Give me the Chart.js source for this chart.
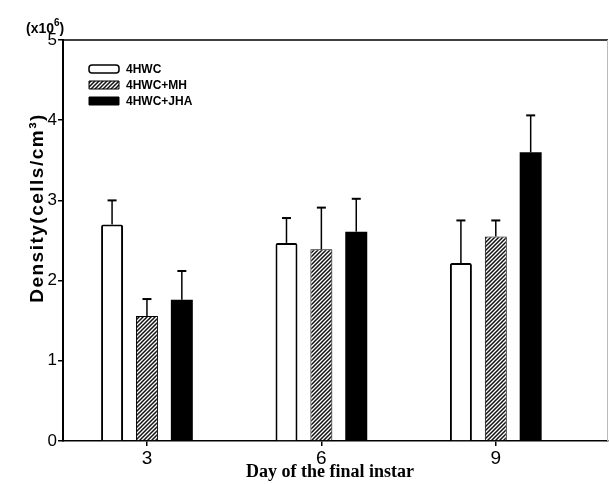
<!DOCTYPE html>
<html>
<head>
<meta charset="utf-8">
<script src="https://cdn.jsdelivr.net/npm/chart.js@4/dist/chart.umd.min.js"></script>
<style>
  html, body { margin: 0; padding: 0; background: #fff; }
  #wrap { width: 609px; height: 484px; }
</style>
</head>
<body>
<div id="wrap"><canvas id="chart" width="609" height="484"></canvas></div>
<script>
// data (density, x10^6 cells/cm3)
const days = [3, 6, 9];
const seriesNames = ["4HWC", "4HWC+MH", "4HWC+JHA"];
const hwc = [2.70, 2.47, 2.22];
const hwcErr = [0.30, 0.31, 0.53];
const mh = [1.56, 2.39, 2.55];
const mhErr = [0.21, 0.52, 0.20];
const jha = [1.76, 2.61, 3.60];
const jhaErr = [0.36, 0.41, 0.46];
const yTicks = [0, 1, 2, 3, 4, 5];

// diagonal hatch for the MH bars
function makeHatch() {
  const c = document.createElement("canvas");
  c.width = 4; c.height = 4;
  const g = c.getContext("2d");
  g.fillStyle = "#fff";
  g.fillRect(0, 0, 4, 4);
  g.strokeStyle = "#111";
  g.lineWidth = 1.5;
  g.beginPath();
  g.moveTo(-1, 5); g.lineTo(5, -1);
  g.moveTo(-1, 1); g.lineTo(1, -1);
  g.moveTo(3, 5); g.lineTo(5, 3);
  g.stroke();
  return g.createPattern(c, "repeat");
}
const hatch = makeHatch();

const errs = [hwcErr, mhErr, jhaErr];

// error bars (upper side only)
const errorBars = {
  id: "errorBars",
  afterDatasetsDraw(chart) {
    const ctx = chart.ctx;
    const y = chart.scales.y;
    ctx.save();
    ctx.strokeStyle = "#000";
    chart.data.datasets.forEach((ds, i) => {
      const meta = chart.getDatasetMeta(i);
      meta.data.forEach((bar, j) => {
        const top = y.getPixelForValue(ds.data[j].y + errs[i][j]);
        ctx.lineWidth = 1.5;
        ctx.beginPath();
        ctx.moveTo(bar.x, bar.y);
        ctx.lineTo(bar.x, top);
        ctx.stroke();
        ctx.lineWidth = 2;
        ctx.beginPath();
        ctx.moveTo(bar.x - 4.5, top);
        ctx.lineTo(bar.x + 4.5, top);
        ctx.stroke();
      });
    });
    ctx.restore();
  }
};

// frame, titles and legend
const decorations = {
  id: "decorations",
  afterDraw(chart) {
    const ctx = chart.ctx;
    const a = chart.chartArea;
    ctx.save();
    ctx.strokeStyle = "#000";
    ctx.lineWidth = 1.5;
    ctx.beginPath();
    ctx.moveTo(a.left, a.top);
    ctx.lineTo(a.right, a.top);
    ctx.stroke();
    ctx.strokeStyle = "#bbb";
    ctx.lineWidth = 1;
    ctx.beginPath();
    ctx.moveTo(a.right - 0.5, a.top);
    ctx.lineTo(a.right - 0.5, a.bottom);
    ctx.stroke();

    ctx.fillStyle = "#000";
    // multiplier (x10^6)
    ctx.textAlign = "left";
    ctx.textBaseline = "alphabetic";
    ctx.font = "bold 14px 'Liberation Sans', Arial, sans-serif";
    ctx.fillText("(x10", 26, 33);
    let w = ctx.measureText("(x10").width;
    ctx.font = "bold 10px 'Liberation Sans', Arial, sans-serif";
    ctx.fillText("6", 26 + w, 26);
    w += ctx.measureText("6").width;
    ctx.font = "bold 14px 'Liberation Sans', Arial, sans-serif";
    ctx.fillText(")", 26 + w, 33);

    // y title
    ctx.save();
    ctx.translate(43, 208);
    ctx.rotate(-Math.PI / 2);
    ctx.font = "bold 19px 'Liberation Sans', Arial, sans-serif";
    ctx.letterSpacing = "1.5px";
    ctx.textAlign = "center";
    ctx.fillText("Density(cells/cm\u00b3)", 0, 0);
    ctx.restore();

    // x title
    ctx.font = "bold 18px 'Liberation Serif', 'Times New Roman', serif";
    ctx.textAlign = "center";
    ctx.fillText("Day of the final instar", 330, 477);

    // legend
    const ly = [69, 85, 101];
    ctx.font = "bold 12px 'Liberation Sans', Arial, sans-serif";
    ctx.textAlign = "left";
    ctx.textBaseline = "middle";
    chart.data.datasets.forEach((ds, i) => {
      const y0 = ly[i] - 4;
      ctx.beginPath();
      ctx.roundRect(89, y0, 30, 8, i === 0 ? 3 : 0);
      ctx.fillStyle = ds.backgroundColor;
      ctx.fill();
      ctx.lineWidth = i === 0 ? 1.5 : 1;
      ctx.strokeStyle = "#000";
      ctx.stroke();
      ctx.fillStyle = "#000";
      ctx.fillText(ds.label, 126, ly[i] + 0.5);
    });
    ctx.restore();
  }
};

const toPoints = vals => days.map((d, i) => ({ x: d, y: vals[i] }));

new Chart(document.getElementById("chart"), {
  type: "bar",
  data: {
    datasets: [
      { label: seriesNames[0], data: toPoints(hwc), backgroundColor: "#fff", borderColor: "#000", borderWidth: 2, borderRadius: 2 },
      { label: seriesNames[1], data: toPoints(mh), backgroundColor: hatch, borderColor: "#000", borderWidth: 1 },
      { label: seriesNames[2], data: toPoints(jha), backgroundColor: "#000", borderColor: "#000", borderWidth: 0 }
    ]
  },
  options: {
    responsive: false,
    animation: false,
    categoryPercentage: 0.6,
    barPercentage: 0.63,
    layout: { padding: { top: 40, right: 1, left: 0, bottom: 0 } },
    plugins: { legend: { display: false }, tooltip: { enabled: false } },
    scales: {
      x: {
        type: "linear",
        offset: false,
        min: 1.556,
        max: 10.93,
        afterBuildTicks: s => { s.ticks = days.map(v => ({ value: v })); },
        afterFit: s => { s.height = 43; },
        grid: { display: true, offset: false, drawOnChartArea: false, tickLength: 5, color: "#000", lineWidth: 1.5 },
        border: { display: true, color: "#000", width: 1.5 },
        ticks: { color: "#000", padding: 1, font: { family: "'Liberation Sans', Arial, sans-serif", size: 19 } }
      },
      y: {
        min: 0,
        max: 5,
        afterBuildTicks: s => { s.ticks = yTicks.map(v => ({ value: v })); },
        afterFit: s => { s.width = 63; },
        grid: { display: true, drawOnChartArea: false, tickLength: 5, color: "#000", lineWidth: 1.5 },
        border: { display: true, color: "#000", width: 2 },
        ticks: { color: "#000", padding: 1, font: { family: "'Liberation Sans', Arial, sans-serif", size: 17 } }
      }
    }
  },
  plugins: [errorBars, decorations]
});
</script>
</body>
</html>
